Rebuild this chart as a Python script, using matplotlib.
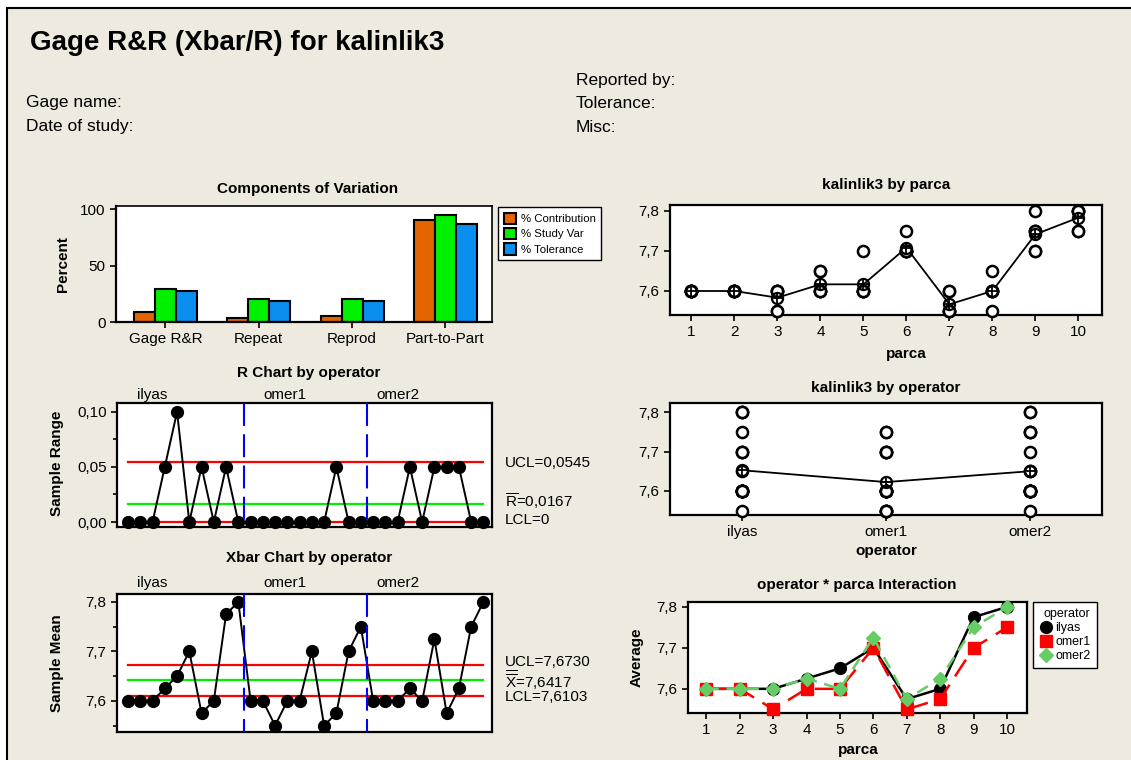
import numpy as np
import matplotlib
matplotlib.use("Agg")
import matplotlib.pyplot as plt
from matplotlib.patches import Rectangle, Patch
from matplotlib.lines import Line2D
from matplotlib.ticker import FuncFormatter, MultipleLocator

plt.rcParams["font.family"] = ["Liberation Sans", "DejaVu Sans"]
plt.rcParams["mathtext.fontset"] = "custom"
plt.rcParams["mathtext.rm"] = "Liberation Sans"

W, H = 1131, 760

# components of variation (percent)
components = ["Gage R&R", "Repeat", "Reprod", "Part-to-Part"]
pct_contribution = [8.8, 3.6, 5.2, 91.0]
pct_study_var = [29.6, 20.6, 20.6, 94.6]
pct_tolerance = [27.6, 18.8, 18.8, 87.0]

parts = [1, 2, 3, 4, 5, 6, 7, 8, 9, 10]
operators = ["ilyas", "omer1", "omer2"]

# measurements, two trials per operator and part
ilyas_t1 = [7.60, 7.60, 7.60, 7.60, 7.60, 7.70, 7.55, 7.60, 7.75, 7.80]
ilyas_t2 = [7.60, 7.60, 7.60, 7.65, 7.70, 7.70, 7.60, 7.60, 7.80, 7.80]
omer1_t1 = [7.60, 7.60, 7.55, 7.60, 7.60, 7.70, 7.55, 7.55, 7.70, 7.75]
omer1_t2 = [7.60, 7.60, 7.55, 7.60, 7.60, 7.70, 7.55, 7.60, 7.70, 7.75]
omer2_t1 = [7.60, 7.60, 7.60, 7.60, 7.60, 7.70, 7.55, 7.60, 7.75, 7.80]
omer2_t2 = [7.60, 7.60, 7.60, 7.65, 7.60, 7.75, 7.60, 7.65, 7.75, 7.80]

# control limits as reported
r_ucl, r_bar, r_lcl = 0.0545, 0.0167, 0.0
x_ucl, x_bar, x_lcl = 7.6730, 7.6417, 7.6103

meas = np.array([[ilyas_t1, ilyas_t2], [omer1_t1, omer1_t2], [omer2_t1, omer2_t2]])
xbar = meas.mean(axis=1)
rng = meas.max(axis=1) - meas.min(axis=1)
sub_x = np.arange(1, meas.shape[0] * meas.shape[2] + 1)

fig = plt.figure(figsize=(W / 100, H / 100), dpi=100, facecolor="white")
fig.add_artist(Rectangle((7 / W, -0.1), 1.2, 1.1 - 8 / H, transform=fig.transFigure,
                         facecolor="#EEEAE0", edgecolor="black", lw=1.5, zorder=0))


def add_ax(l, t, r, b):
    ax = fig.add_axes([l / W, 1 - b / H, (r - l) / W, (b - t) / H])
    for s in ax.spines.values():
        s.set_linewidth(1.6)
    ax.tick_params(direction="out", length=4, width=1.2, labelsize=11)
    return ax


def ftext(x, y, s, **kw):
    kw.setdefault("va", "center")
    fig.text(x / W, 1 - y / H, s, **kw)


def comma(fmt):
    return FuncFormatter(lambda v, p: fmt.format(v).replace(".", ","))


# header
ftext(30, 43, "Gage R&R (Xbar/R) for kalinlik3", fontsize=20, fontweight="bold")
ftext(576, 80, "Reported by:", fontsize=12.5)
ftext(26, 103, "Gage name:", fontsize=12.5)
ftext(576, 103, "Tolerance:", fontsize=12.5)
ftext(26, 127, "Date of study:", fontsize=12.5)
ftext(576, 127, "Misc:", fontsize=12.5)

tfont = dict(fontsize=11, fontweight="bold", ha="center")

# components of variation
ax = add_ax(116, 206, 492, 322)
xc = np.arange(len(components))
bw = 0.225
bar_cols = ["#E46400", "#00F000", "#0A8EF0"]
for k, (vals, col) in enumerate(zip([pct_contribution, pct_study_var, pct_tolerance], bar_cols)):
    ax.bar(xc + (k - 1) * bw, vals, bw, color=col, edgecolor="black", lw=1.5)
ax.set_xlim(-0.53, 3.5)
ax.set_ylim(0, 103)
ax.set_xticks(xc)
ax.set_xticklabels(components)
ax.set_yticks([0, 50, 100])
ax.spines["top"].set_linewidth(1.2)
ax.spines["right"].set_linewidth(1.2)
ftext(308, 189, "Components of Variation", **tfont)
ftext(63, 264, "Percent", rotation=90, **tfont)
fig.legend(handles=[Patch(facecolor=c, edgecolor="black", lw=1.5) for c in bar_cols],
           labels=["% Contribution", "% Study Var", "% Tolerance"],
           loc="upper left", bbox_to_anchor=(498 / W, 1 - 207 / H), borderaxespad=0,
           fontsize=8.2, fancybox=False, edgecolor="black", framealpha=1,
           handlelength=1.1, handleheight=1.2, handletextpad=0.4, borderpad=0.5,
           labelspacing=0.3)


def control_chart(ax, y, ucl, cl, lcl, ylim):
    ax.plot(sub_x, y, color="black", lw=1.4, marker="o", ms=8.5, zorder=3, clip_on=False)
    ax.plot([1, 30], [ucl, ucl], color="red", lw=1.6)
    ax.plot([1, 30], [lcl, lcl], color="red", lw=1.6)
    ax.plot([1, 30], [cl, cl], color="#00EE00", lw=1.6)
    for xv in [10.5, 20.5]:
        ax.plot([xv, xv], [1, 0], color="blue", lw=1.5, ls=(0, (11, 4)),
                transform=ax.get_xaxis_transform(), zorder=4)
    ax.set_xlim(0.1, 30.7)
    ax.set_ylim(*ylim)
    ax.set_xticks([])


# R chart
ax = add_ax(117, 403, 492, 527)
control_chart(ax, rng.ravel(), r_ucl, r_bar, r_lcl, (-0.0045, 0.108))
ax.yaxis.set_major_locator(MultipleLocator(0.05))
ax.yaxis.set_minor_locator(MultipleLocator(0.025))
ax.tick_params(which="minor", direction="out", length=3, width=1.2)
ax.yaxis.set_major_formatter(comma("{:.2f}"))
ftext(309, 373, "R Chart by operator", **tfont)
ftext(57, 463, "Sample Range", rotation=90, **tfont)
for xp, name in zip([137, 263, 376], operators):
    ftext(xp, 395, name, fontsize=11)
ftext(505, 463, "UCL=0,0545", fontsize=11)
ftext(505, 501, r"$\overline{\mathrm{R}}$=0,0167", fontsize=11)
ftext(505, 520, "LCL=0", fontsize=11)

# Xbar chart
ax = add_ax(117, 594, 492, 732)
control_chart(ax, xbar.ravel(), x_ucl, x_bar, x_lcl, (7.537, 7.816))
ax.yaxis.set_major_locator(MultipleLocator(0.1))
ax.yaxis.set_minor_locator(MultipleLocator(0.05))
ax.tick_params(which="minor", direction="out", length=3, width=1.2)
ax.yaxis.set_major_formatter(comma("{:.1f}"))
ftext(309, 558, "Xbar Chart by operator", **tfont)
ftext(57, 663, "Sample Mean", rotation=90, **tfont)
for xp, name in zip([137, 263, 376], operators):
    ftext(xp, 583, name, fontsize=11)
ftext(505, 662, "UCL=7,6730", fontsize=11)
ftext(505, 680, r"$\overline{\overline{\mathrm{X}}}$=7,6417", fontsize=11)
ftext(505, 697, "LCL=7,6103", fontsize=11)


def mean_line(ax, xs, ys):
    ax.plot(xs, ys, color="black", lw=1.3, zorder=2)
    ax.plot(xs, ys, ls="none", marker="o", ms=8, mfc="none", mec="black", mew=1.6,
            zorder=4, clip_on=False)
    ax.plot(xs, ys, ls="none", marker="+", ms=8, mec="black", mew=1.3, zorder=5,
            clip_on=False)


# by parca
ax = add_ax(670, 205, 1102, 315)
for i, p in enumerate(parts):
    vals = meas[:, :, i].ravel()
    ax.plot([p] * len(vals), vals, ls="none", marker="o", ms=8, mfc="white",
            mec="black", mew=1.8, clip_on=False, zorder=3)
mean_line(ax, parts, meas.mean(axis=(0, 1)))
ax.set_xlim(0.5, 10.55)
ax.set_ylim(7.54, 7.815)
ax.set_xticks(parts)
ax.yaxis.set_major_locator(MultipleLocator(0.1))
ax.yaxis.set_major_formatter(comma("{:.1f}"))
ftext(886, 185, "kalinlik3 by parca", **tfont)
ftext(906, 354, "parca", **tfont)

# by operator
ax = add_ax(670, 403, 1102, 515)
op_x = np.arange(1, len(operators) + 1)
for i in range(len(operators)):
    vals = meas[i].ravel()
    ax.plot([op_x[i]] * len(vals), vals, ls="none", marker="o", ms=8, mfc="white",
            mec="black", mew=1.8, clip_on=False, zorder=3)
mean_line(ax, op_x, meas.mean(axis=(1, 2)))
ax.set_xlim(0.5, 3.5)
ax.set_ylim(7.539, 7.823)
ax.set_xticks(op_x)
ax.set_xticklabels(operators)
ax.yaxis.set_major_locator(MultipleLocator(0.1))
ax.yaxis.set_major_formatter(comma("{:.1f}"))
ftext(886, 388, "kalinlik3 by operator", **tfont)
ftext(886, 551, "operator", **tfont)

# interaction
ax = add_ax(688, 602, 1027, 713)
styles = [
    dict(color="black", ls="-", marker="o", mfc="black", mec="black"),
    dict(color="red", ls=(0, (8, 4)), marker="s", mfc="red", mec="red"),
    dict(color="#66CC66", ls=(0, (5, 3)), marker="D", mfc="#66CC66", mec="#66CC66"),
]
handles = []
for i, st in enumerate(styles):
    ms = 7 if st["marker"] == "D" else 8.5
    ax.plot(parts, xbar[i], lw=1.8, ms=ms, clip_on=False, zorder=3 + i, **st)
    handles.append(Line2D([], [], ls="none", marker=st["marker"], ms=ms,
                          mfc=st["mfc"], mec=st["mec"]))
ax.set_xlim(0.45, 10.6)
ax.set_ylim(7.541, 7.812)
ax.set_xticks(parts)
ax.yaxis.set_major_locator(MultipleLocator(0.1))
ax.yaxis.set_major_formatter(comma("{:.1f}"))
ftext(857, 585, "operator * parca Interaction", **tfont)
ftext(858, 750, "parca", **tfont)
ftext(637, 657, "Average", rotation=90, **tfont)
leg = fig.legend(handles=handles, labels=operators, title="operator", title_fontsize=9,
                 loc="upper left", bbox_to_anchor=(1033 / W, 1 - 602 / H), borderaxespad=0,
                 fontsize=9, fancybox=False, edgecolor="black", framealpha=1,
                 handlelength=1.0, handletextpad=0.3, borderpad=0.5, labelspacing=0.15)
leg._legend_box.align = "right"

fig.savefig("out.png", dpi=100, facecolor="white")
